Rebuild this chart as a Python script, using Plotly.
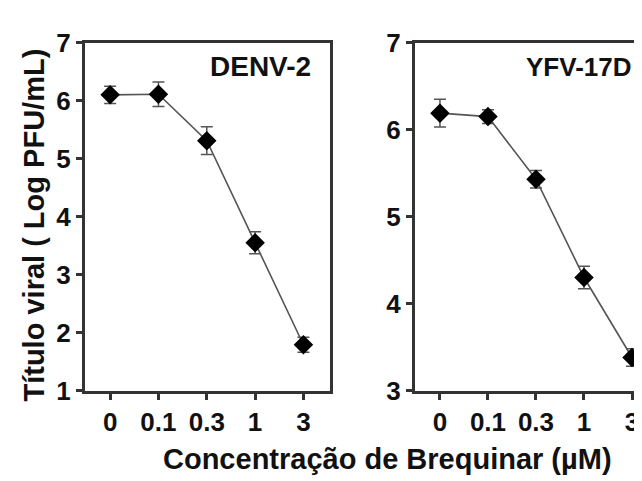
import plotly.graph_objects as go

conc_labels = ["0", "0.1", "0.3", "1", "3"]
denv_titer = [6.10, 6.11, 5.31, 3.55, 1.79]
denv_err = [0.15, 0.21, 0.24, 0.19, 0.13]
yfv_titer = [6.19, 6.15, 5.43, 4.30, 3.38]
yfv_err = [0.16, 0.08, 0.10, 0.13, 0.10]

W, H = 642, 481
FONT = "Liberation Sans, Arial, sans-serif"

def px_x(p):
    return p / W

def px_y(p):
    return 1 - p / H

fig = go.Figure()

for vals, errs, xa, ya in [(denv_titer, denv_err, "x", "y"), (yfv_titer, yfv_err, "x2", "y2")]:
    fig.add_trace(go.Scatter(
        x=list(range(len(conc_labels))), y=vals,
        mode="lines+markers",
        line=dict(color="#555555", width=1.6),
        marker=dict(symbol="diamond", size=15, color="#000000"),
        error_y=dict(type="data", array=errs, visible=True, color="#555555", thickness=1.5, width=6),
        xaxis=xa, yaxis=ya, showlegend=False, cliponaxis=False,
    ))

axis_common = dict(
    showline=True, linecolor="#333333", linewidth=3,
    ticks="outside", ticklen=6, tickwidth=2.5, tickcolor="#333333",
    showgrid=False, zeroline=False,
    tickfont=dict(family=FONT, size=26, color="#111111", weight="bold"),
)

fig.update_layout(
    width=W, height=H,
    margin=dict(l=0, r=0, t=0, b=0),
    paper_bgcolor="white", plot_bgcolor="white",
    xaxis=dict(domain=[px_x(77), px_x(322)], range=[-0.52, 4.55], anchor="y",
               tickmode="array", tickvals=list(range(5)), ticktext=conc_labels,
               mirror=True, **axis_common),
    yaxis=dict(domain=[px_y(392), px_y(21)], range=[1, 7], anchor="x",
               tickmode="array", tickvals=[1, 2, 3, 4, 5, 6, 7], mirror=True, **axis_common),
    xaxis2=dict(domain=[px_x(407), 1.0], range=[-0.52, 4.375], anchor="y2",
                tickmode="array", tickvals=list(range(5)), ticktext=conc_labels,
                mirror=True, **axis_common),
    yaxis2=dict(domain=[px_y(392), px_y(21)], range=[3, 7], anchor="x2",
                tickmode="array", tickvals=[3, 4, 5, 6, 7], mirror=False, **axis_common),
)

fig.add_annotation(text="DENV-2", x=px_x(305), y=px_y(46), xref="paper", yref="paper",
                   xanchor="right", yanchor="middle", showarrow=False,
                   font=dict(family=FONT, size=28, color="#111111", weight="bold"))
fig.add_annotation(text="YFV-17D", x=px_x(626), y=px_y(47), xref="paper", yref="paper",
                   xanchor="right", yanchor="middle", showarrow=False,
                   font=dict(family=FONT, size=26, color="#111111", weight="bold"))
fig.add_annotation(text="Título viral ( Log PFU/mL)", x=px_x(26), y=px_y(216), xref="paper", yref="paper",
                   xanchor="center", yanchor="middle", textangle=-90, showarrow=False,
                   font=dict(family=FONT, size=29, color="#111111", weight="bold"))
fig.add_annotation(text="Concentração de Brequinar (µM)", x=px_x(380), y=px_y(465), xref="paper", yref="paper",
                   xanchor="center", yanchor="middle", showarrow=False,
                   font=dict(family=FONT, size=29, color="#111111", weight="bold"))

fig.write_html("out.html")
